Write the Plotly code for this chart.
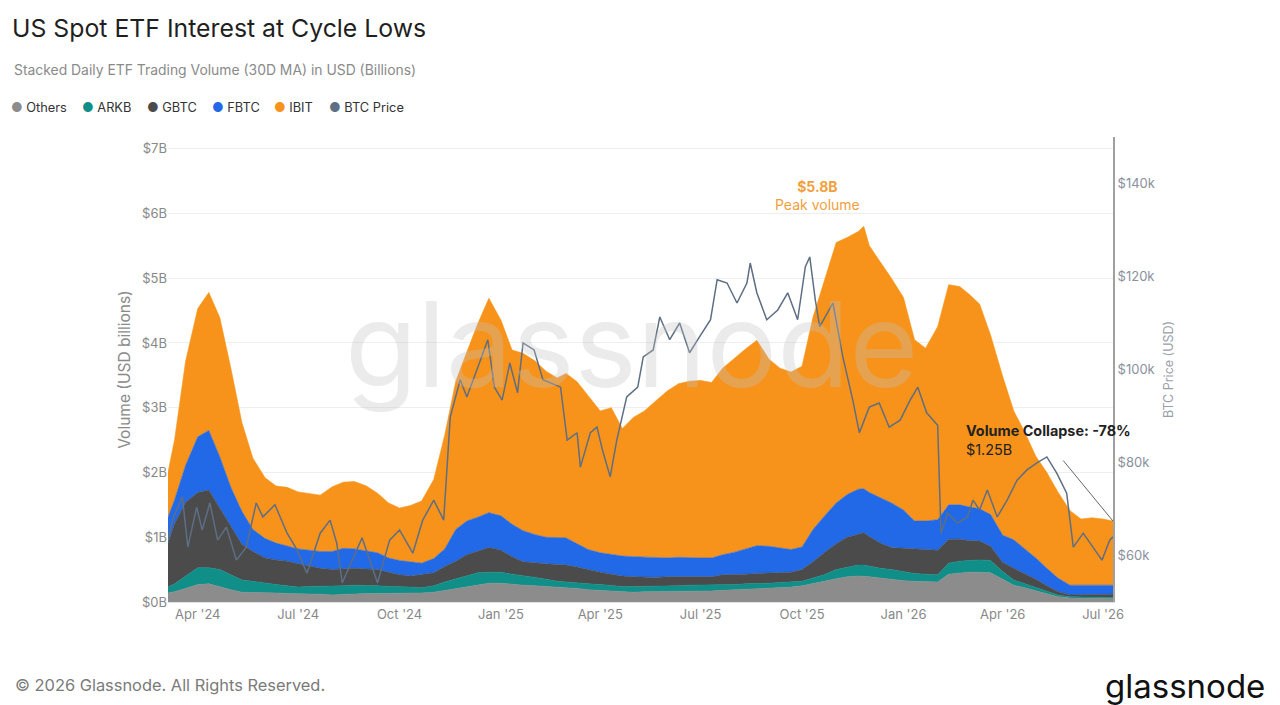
import plotly.graph_objects as go

# ---------------- data ----------------
dates = [
    "2024-03-05", "2024-03-11", "2024-03-21", "2024-04-01", "2024-04-11", "2024-04-21",
    "2024-05-01", "2024-05-11", "2024-05-21", "2024-06-01", "2024-06-11", "2024-06-21",
    "2024-07-01", "2024-07-11", "2024-07-21", "2024-08-01", "2024-08-11", "2024-08-21",
    "2024-09-01", "2024-09-11", "2024-09-21", "2024-10-01", "2024-10-11", "2024-10-21",
    "2024-11-01", "2024-11-11", "2024-11-21", "2024-12-01", "2024-12-11", "2024-12-21",
    "2025-01-01", "2025-01-11", "2025-01-21", "2025-02-01", "2025-02-11", "2025-02-21",
    "2025-03-01", "2025-03-11", "2025-03-21", "2025-04-01", "2025-04-11", "2025-04-21",
    "2025-05-01", "2025-05-11", "2025-05-21", "2025-06-01", "2025-06-11", "2025-06-21",
    "2025-07-01", "2025-07-11", "2025-07-21", "2025-08-01", "2025-08-11", "2025-08-21",
    "2025-09-01", "2025-09-11", "2025-09-21", "2025-10-01", "2025-10-11", "2025-10-21",
    "2025-11-01", "2025-11-11", "2025-11-21", "2025-11-26", "2025-12-01", "2025-12-11",
    "2025-12-21", "2026-01-01", "2026-01-11", "2026-01-21", "2026-02-01", "2026-02-11",
    "2026-02-21", "2026-03-01", "2026-03-11", "2026-03-21", "2026-04-01", "2026-04-11",
    "2026-04-21", "2026-05-01", "2026-05-11", "2026-05-21", "2026-06-01", "2026-06-11",
    "2026-06-21", "2026-07-01", "2026-07-10",
]

# USD billions, 30D MA
others = [
    0.14, 0.16, 0.21, 0.27, 0.28, 0.23, 0.19, 0.15, 0.15, 0.14, 0.14, 0.13,
    0.13, 0.12, 0.12, 0.11, 0.12, 0.12, 0.13, 0.13, 0.13, 0.14, 0.14, 0.14,
    0.15, 0.18, 0.21, 0.24, 0.27, 0.29, 0.29, 0.27, 0.26, 0.25, 0.24, 0.23,
    0.22, 0.21, 0.19, 0.18, 0.17, 0.16, 0.15, 0.16, 0.16, 0.17, 0.17, 0.17,
    0.17, 0.17, 0.18, 0.19, 0.19, 0.20, 0.21, 0.22, 0.23, 0.25, 0.29, 0.32,
    0.36, 0.39, 0.40, 0.40, 0.39, 0.37, 0.35, 0.33, 0.32, 0.31, 0.31, 0.43,
    0.45, 0.46, 0.46, 0.45, 0.35, 0.26, 0.22, 0.17, 0.12, 0.08, 0.06, 0.06,
    0.06, 0.05, 0.05,
]
arkb = [
    0.09, 0.12, 0.19, 0.26, 0.25, 0.27, 0.23, 0.19, 0.17, 0.15, 0.13, 0.12,
    0.10, 0.12, 0.12, 0.14, 0.13, 0.14, 0.13, 0.12, 0.11, 0.10, 0.09, 0.08,
    0.10, 0.13, 0.15, 0.17, 0.18, 0.17, 0.17, 0.16, 0.15, 0.13, 0.11, 0.09,
    0.09, 0.08, 0.09, 0.09, 0.08, 0.08, 0.09, 0.08, 0.08, 0.08, 0.08, 0.09,
    0.09, 0.09, 0.09, 0.08, 0.09, 0.08, 0.08, 0.08, 0.08, 0.07, 0.08, 0.10,
    0.14, 0.15, 0.17, 0.17, 0.16, 0.15, 0.15, 0.14, 0.12, 0.12, 0.11, 0.17,
    0.18, 0.18, 0.19, 0.19, 0.12, 0.08, 0.06, 0.05, 0.04, 0.03, 0.02, 0.02,
    0.02, 0.02, 0.02,
]
gbtc = [
    0.68, 0.93, 1.14, 1.16, 1.20, 0.95, 0.73, 0.55, 0.46, 0.39, 0.38, 0.38,
    0.36, 0.31, 0.28, 0.25, 0.26, 0.26, 0.25, 0.25, 0.22, 0.18, 0.17, 0.20,
    0.20, 0.24, 0.27, 0.32, 0.33, 0.38, 0.34, 0.27, 0.21, 0.22, 0.24, 0.26,
    0.26, 0.25, 0.22, 0.19, 0.18, 0.16, 0.15, 0.14, 0.14, 0.14, 0.14, 0.13,
    0.13, 0.13, 0.15, 0.15, 0.15, 0.16, 0.16, 0.15, 0.15, 0.18, 0.25, 0.34,
    0.40, 0.46, 0.48, 0.50, 0.46, 0.39, 0.34, 0.36, 0.38, 0.38, 0.38, 0.37,
    0.34, 0.31, 0.29, 0.22, 0.14, 0.18, 0.16, 0.13, 0.09, 0.05, 0.03, 0.03,
    0.04, 0.05, 0.05,
]
fbtc = [
    0.40, 0.37, 0.57, 0.86, 0.92, 0.79, 0.62, 0.51, 0.34, 0.30, 0.26, 0.24,
    0.23, 0.25, 0.26, 0.28, 0.32, 0.30, 0.28, 0.26, 0.22, 0.22, 0.22, 0.18,
    0.22, 0.27, 0.49, 0.52, 0.53, 0.54, 0.53, 0.50, 0.48, 0.44, 0.41, 0.41,
    0.42, 0.36, 0.31, 0.30, 0.30, 0.31, 0.31, 0.31, 0.30, 0.29, 0.30, 0.29,
    0.29, 0.29, 0.31, 0.35, 0.39, 0.43, 0.41, 0.39, 0.35, 0.35, 0.50, 0.56,
    0.63, 0.66, 0.69, 0.68, 0.68, 0.70, 0.69, 0.59, 0.43, 0.44, 0.47, 0.53,
    0.53, 0.52, 0.50, 0.49, 0.42, 0.44, 0.38, 0.33, 0.27, 0.21, 0.15, 0.15,
    0.14, 0.14, 0.14,
]
ibit = [
    0.69, 0.93, 1.61, 1.98, 2.13, 2.15, 1.84, 1.37, 1.10, 0.94, 0.88, 0.90,
    0.88, 0.87, 0.87, 1.00, 1.02, 1.04, 1.00, 0.92, 0.85, 0.81, 0.87, 0.96,
    1.22, 1.76, 2.29, 2.61, 2.99, 3.31, 3.02, 2.69, 2.74, 2.68, 2.56, 2.47,
    2.54, 2.50, 2.37, 2.19, 2.27, 1.97, 2.15, 2.26, 2.42, 2.58, 2.68, 2.73,
    2.74, 2.71, 2.88, 3.00, 3.09, 3.17, 2.89, 2.77, 2.74, 2.79, 3.28, 3.63,
    4.02, 3.97, 3.98, 4.05, 3.81, 3.64, 3.47, 3.28, 2.80, 2.67, 2.98, 3.40,
    3.37, 3.29, 3.16, 2.77, 2.45, 1.99, 1.80, 1.57, 1.48, 1.33, 1.15, 1.02,
    1.04, 1.02, 0.99,
]

price_dates = [
    "2024-03-05", "2024-03-10", "2024-03-18", "2024-03-23", "2024-03-31", "2024-04-05",
    "2024-04-12", "2024-04-19", "2024-04-27", "2024-05-06", "2024-05-15", "2024-05-24",
    "2024-05-30", "2024-06-10", "2024-06-21", "2024-06-30", "2024-07-09", "2024-07-21",
    "2024-07-30", "2024-08-05", "2024-08-10", "2024-08-20", "2024-08-28", "2024-09-11",
    "2024-09-22", "2024-10-01", "2024-10-13", "2024-10-22", "2024-11-01", "2024-11-10",
    "2024-11-16", "2024-11-25", "2024-12-01", "2024-12-11", "2024-12-20", "2024-12-26",
    "2025-01-02", "2025-01-09", "2025-01-16", "2025-01-21", "2025-01-31", "2025-02-08",
    "2025-02-15", "2025-02-24", "2025-03-02", "2025-03-11", "2025-03-14", "2025-03-23",
    "2025-03-29", "2025-04-03", "2025-04-10", "2025-04-16", "2025-04-25", "2025-05-05",
    "2025-05-10", "2025-05-19", "2025-05-25", "2025-06-03", "2025-06-12", "2025-06-21",
    "2025-06-30", "2025-07-10", "2025-07-16", "2025-07-25", "2025-08-03", "2025-08-12",
    "2025-08-15", "2025-08-21", "2025-08-30", "2025-09-09", "2025-09-18", "2025-09-27",
    "2025-10-04", "2025-10-08", "2025-10-13", "2025-10-17", "2025-10-24", "2025-10-29",
    "2025-11-07", "2025-11-16", "2025-11-22", "2025-12-01", "2025-12-10", "2025-12-19",
    "2025-12-29", "2026-01-07", "2026-01-14", "2026-01-22", "2026-01-28", "2026-02-01",
    "2026-02-04", "2026-02-10", "2026-02-19", "2026-02-28", "2026-03-05", "2026-03-11",
    "2026-03-18", "2026-03-27", "2026-04-05", "2026-04-14", "2026-04-23", "2026-05-02",
    "2026-05-11", "2026-05-20", "2026-05-29", "2026-06-04", "2026-06-13", "2026-06-22",
    "2026-06-30", "2026-07-07", "2026-07-10",
]
btc_price = [
    63300, 68300, 72600, 61800, 70400, 65500, 71300, 63300, 66100, 59000, 61800, 71300,
    68300, 70900, 64800, 61200, 56200, 64800, 67600, 62700, 54100, 59700, 63800, 54100,
    63300, 65500, 60500, 67600, 71900, 67600, 89800, 97800, 94100, 100500, 106400, 96200,
    93400, 101400, 95000, 105700, 104200, 97800, 97100, 96200, 84800, 86400, 79000, 86400,
    87600, 82700, 76900, 84800, 94100, 96200, 102700, 104200, 111300, 106400, 110000, 103600,
    107000, 110700, 119300, 118600, 114300, 118600, 122900, 116500, 110700, 112800, 116500, 110700,
    122100, 124200, 115000, 109200, 112200, 114300, 102700, 93400, 86400, 91900, 92800, 87600,
    89100, 93400, 96200, 90700, 89100, 88000, 64800, 69100, 67000, 68300, 71900, 69800,
    74100, 68300, 71900, 76200, 78400, 79900, 81200, 77700, 73400, 61800, 64800, 61800,
    59000, 63300, 64000,
]

vol_ticks = [0, 1, 2, 3, 4, 5, 6, 7]
vol_ticktext = ["$0B", "$1B", "$2B", "$3B", "$4B", "$5B", "$6B", "$7B"]
price_ticks = [60000, 80000, 100000, 120000, 140000]
price_ticktext = ["$60k", "$80k", "$100k", "$120k", "$140k"]
x_ticks = ["2024-04-01", "2024-07-01", "2024-10-01", "2025-01-01", "2025-04-01",
           "2025-07-01", "2025-10-01", "2026-01-01", "2026-04-01", "2026-07-01"]
x_ticktext = ["Apr '24", "Jul '24", "Oct '24", "Jan '25", "Apr '25",
              "Jul '25", "Oct '25", "Jan '26", "Apr '26", "Jul '26"]

peak_value = 5.8
last_value = 1.25
collapse_pct = -78

# ---------------- styling ----------------
FONT = "Inter, Roboto, 'Noto Sans', sans-serif"
colors = {
    "Others": "#8C8C8C",
    "ARKB": "#0F8F88",
    "GBTC": "#4B4B4B",
    "FBTC": "#2169E6",
    "IBIT": "#F7931A",
    "BTC Price": "#5E6E84",
}

fig = go.Figure()
for name, vals in [("Others", others), ("ARKB", arkb), ("GBTC", gbtc),
                   ("FBTC", fbtc), ("IBIT", ibit)]:
    fig.add_trace(go.Scatter(
        x=dates, y=vals, name=name, stackgroup="etf", mode="lines",
        line=dict(width=0.6, color=colors[name]), fillcolor=colors[name],
        showlegend=False, hoverinfo="skip",
    ))

fig.add_trace(go.Scatter(
    x=price_dates, y=btc_price, name="BTC Price", yaxis="y2", mode="lines",
    line=dict(width=1.5, color=colors["BTC Price"]), showlegend=False, hoverinfo="skip",
))

annotations = []

# legend (as coloured dot + label)
legend_items = [("Others", 9), ("ARKB", 80), ("GBTC", 145), ("FBTC", 210),
                ("IBIT", 272), ("BTC Price", 327)]
for name, px in legend_items:
    annotations.append(dict(
        xref="paper", yref="paper", x=(px - 168) / 945, y=(602 - 107) / 465,
        xanchor="left", yanchor="middle", showarrow=False,
        text=f"<span style='color:{colors[name]}'>●</span> {name}",
        font=dict(family=FONT, size=12.8, color="#333333"),
    ))

# subtitle
annotations.append(dict(
    xref="paper", yref="paper", x=(12 - 168) / 945, y=(602 - 70) / 465,
    xanchor="left", yanchor="middle", showarrow=False,
    text="Stacked Daily ETF Trading Volume (30D MA) in USD (Billions)",
    font=dict(family=FONT, size=13.9, color="#8a8a8a"),
))

# watermark
annotations.append(dict(
    xref="paper", yref="paper", x=0.491, y=0.555, xanchor="center", yanchor="middle",
    showarrow=False, text="glassnode",
    font=dict(family=FONT, size=118, color="rgba(195,195,195,0.33)"),
))

# peak annotation
annotations.append(dict(
    xref="x", yref="y", x="2025-10-15", y=6.27, xanchor="center", yanchor="middle",
    showarrow=False, text=f"<b>${peak_value}B</b><br>Peak volume",
    font=dict(family=FONT, size=14, color="#F2A03D"), align="center",
))

# collapse annotation text
annotations.append(dict(
    xref="x", yref="y", x="2026-02-25", y=2.5, xanchor="left", yanchor="middle",
    showarrow=False, align="left",
    text=f"<b>Volume Collapse: {collapse_pct}%</b><br>${last_value}B",
    font=dict(family=FONT, size=14.4, color="#222222"),
))
# connector line to last value
annotations.append(dict(
    xref="x", yref="y", x=dates[-1], y=last_value, text="", showarrow=True,
    arrowhead=0, arrowwidth=1, arrowcolor="#666666", ax=-51, ay=-62,
))

# footer
annotations.append(dict(
    xref="paper", yref="paper", x=(13 - 168) / 945, y=(602 - 685) / 465,
    xanchor="left", yanchor="middle", showarrow=False,
    text="© 2026 Glassnode. All Rights Reserved.",
    font=dict(family=FONT, size=16.4, color="#7a7a7a"),
))
annotations.append(dict(
    xref="paper", yref="paper", x=(1267 - 168) / 945, y=(602 - 686) / 465,
    xanchor="right", yanchor="middle", showarrow=False,
    text="glassnode",
    font=dict(family=FONT, size=33, color="#111111"),
))

fig.update_layout(
    width=1280, height=705,
    margin=dict(l=168, r=167, t=137, b=103),
    paper_bgcolor="white", plot_bgcolor="white",
    title=dict(text="US Spot ETF Interest at Cycle Lows", x=12 / 1280, xanchor="left",
               xref="container", y=1 - 28 / 705, yanchor="middle", yref="container",
               font=dict(family=FONT, size=24.8, color="#1f1f1f")),
    font=dict(family=FONT),
    hovermode=False,
    xaxis=dict(type="date", range=[dates[0], dates[-1]], tickvals=x_ticks, ticktext=x_ticktext,
               tickfont=dict(size=13, color="#888888"), showgrid=False, zeroline=False,
               showline=True, linecolor="#e2e2e2", ticks=""),
    yaxis=dict(range=[0, 7.18], tickvals=vol_ticks, ticktext=vol_ticktext,
               tickfont=dict(size=13, color="#888888"), gridcolor="#eeeeee", zeroline=False,
               title=dict(text="Volume (USD billions)", font=dict(size=15.5, color="#8a8a8a"),
                          standoff=7)),
    yaxis2=dict(overlaying="y", side="right", range=[50000, 150000], tickvals=price_ticks,
                ticktext=price_ticktext, tickfont=dict(size=13, color="#8a909c"),
                showgrid=False, zeroline=False, showline=True, linecolor="#a0a0a0", linewidth=2,
                title=dict(text="BTC Price (USD)", font=dict(size=12.5, color="#9aa0aa"),
                           standoff=10)),
    annotations=annotations,
)

fig.write_html("out.html")
